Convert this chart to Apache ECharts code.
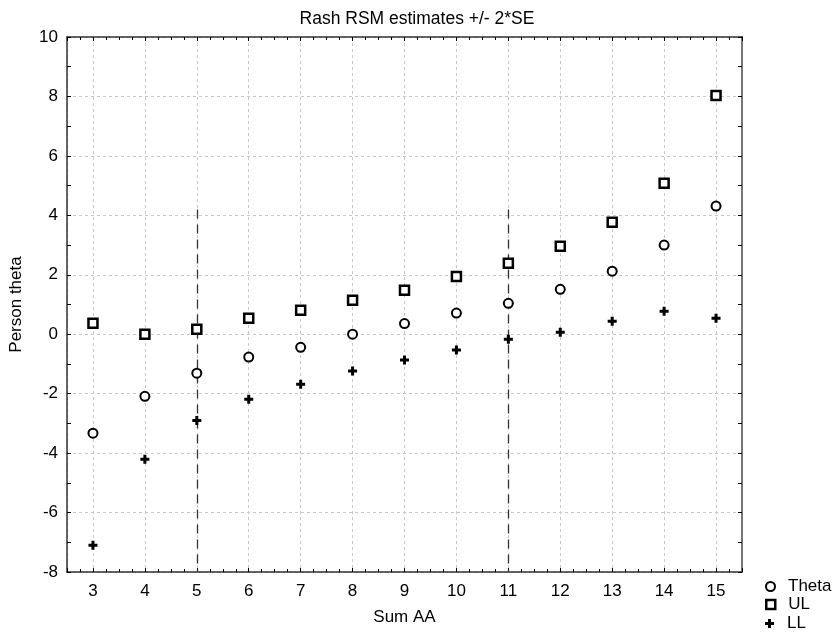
<!DOCTYPE html>
<html>
<head>
<meta charset="utf-8">
<script src="https://cdn.jsdelivr.net/npm/echarts@6/dist/echarts.min.js"></script>
<style>html,body{margin:0;padding:0;background:#fff}#c{width:839px;height:634px}</style>
</head>
<body>
<div id="c"></div>
<script>
const sumAA = [3, 4, 5, 6, 7, 8, 9, 10, 11, 12, 13, 14, 15];
const theta = [-3.33, -2.09, -1.31, -0.77, -0.44, 0.0, 0.36, 0.71, 1.04, 1.51, 2.12, 3.0, 4.31];
const ul = [0.37, 0.0, 0.17, 0.54, 0.81, 1.14, 1.48, 1.94, 2.39, 2.96, 3.77, 5.08, 8.03];
const ll = [-7.1, -4.21, -2.9, -2.19, -1.68, -1.24, -0.87, -0.53, -0.17, 0.07, 0.44, 0.77, 0.54];
const refX = [5, 11];
const refTop = 4.2;
const refBottom = -8;
const seriesNames = ['Theta', 'UL', 'LL'];

const font = 'Liberation Sans, Arial, sans-serif';
const fs = 17;
const pair = (xs, ys) => xs.map((x, i) => [x, ys[i]]);
const plusPath = 'path://M3,0H6V3H9V6H6V9H3V6H0V3H3Z';

const chart = echarts.init(document.getElementById('c'), null, {renderer: 'canvas'});

const axisLine = {show: true, onZero: false, lineStyle: {color: '#333', width: 1.5}};
const xBase = {
  type: 'value', min: 2.5, max: 15.5, splitNumber: 13,
  axisLine: axisLine,
  axisTick: {show: true, inside: true, length: 4, lineStyle: {color: '#000'}},
  minorTick: {show: true, splitNumber: 4, length: 3, lineStyle: {color: '#000'}}
};
const yBase = {
  type: 'value', min: -8, max: 10, interval: 2,
  axisLine: axisLine,
  axisTick: {show: true, inside: true, length: 4, lineStyle: {color: '#000'}},
  minorTick: {show: true, splitNumber: 2, length: 4, lineStyle: {color: '#000'}}
};

const legendRowTop = [578, 596, 615];
const legendBorder = [2, 2.5, 0];

chart.setOption({
  animation: false,
  backgroundColor: '#fff',
  title: {
    text: 'Rash RSM estimates +/- 2*SE',
    left: 412, top: 5, textAlign: 'center',
    textStyle: {fontFamily: font, fontSize: 17.5, fontWeight: 'normal', color: '#000'}
  },
  grid: {left: 67, top: 37, right: 97, bottom: 62, outerBoundsMode: 'none', containLabel: false},
  legend: seriesNames.map((n, i) => ({
    orient: 'vertical', left: 765, top: legendRowTop[i],
    itemWidth: 9, itemHeight: 9, padding: 0,
    itemStyle: {borderWidth: legendBorder[i]},
    textStyle: {fontFamily: font, fontSize: fs, color: '#000', padding: [0, 0, 0, 8]},
    data: [n]
  })),
  xAxis: [
    Object.assign({}, xBase, {
      position: 'bottom',
      name: 'Sum AA', nameLocation: 'middle', nameGap: 37,
      nameTextStyle: {fontFamily: font, fontSize: fs, color: '#000'},
      axisLabel: {fontFamily: font, fontSize: fs, color: '#000', margin: 11, showMinLabel: false, showMaxLabel: false},
      splitLine: {show: true, lineStyle: {color: '#c8c8c8', type: [3, 3], width: 1}}
    }),
    Object.assign({}, xBase, {
      position: 'top',
      axisLabel: {show: false},
      splitLine: {show: false}
    })
  ],
  yAxis: [
    Object.assign({}, yBase, {
      position: 'left',
      name: 'Person theta', nameLocation: 'middle', nameGap: 42,
      nameTextStyle: {fontFamily: font, fontSize: fs, color: '#000'},
      axisLabel: {fontFamily: font, fontSize: fs, color: '#000', margin: 9},
      splitLine: {show: true, lineStyle: {color: '#c8c8c8', type: [3, 3], width: 1}}
    }),
    Object.assign({}, yBase, {
      position: 'right',
      axisLine: {show: true, onZero: false, lineStyle: {color: '#777', width: 2}},
      axisLabel: {show: false},
      splitLine: {show: false}
    })
  ],
  series: [
    {
      name: 'Theta', type: 'scatter', symbol: 'circle', symbolSize: 9,
      itemStyle: {color: '#fff', borderColor: '#000', borderWidth: 2, opacity: 1},
      data: pair(sumAA, theta), z: 5,
      markLine: {
        silent: true, symbol: ['none', 'none'], label: {show: false},
        lineStyle: {color: '#333', type: [9, 6], width: 1.3},
        data: refX.map(x => [{coord: [x, refTop]}, {coord: [x, refBottom]}])
      }
    },
    {
      name: 'UL', type: 'scatter', symbol: 'rect', symbolSize: 9,
      itemStyle: {color: '#fff', borderColor: '#000', borderWidth: 2.5, opacity: 1},
      data: pair(sumAA, ul), z: 5
    },
    {
      name: 'LL', type: 'scatter', symbol: plusPath, symbolSize: 9,
      itemStyle: {color: '#000', opacity: 1},
      data: pair(sumAA, ll), z: 5
    }
  ]
});
</script>
</body>
</html>
